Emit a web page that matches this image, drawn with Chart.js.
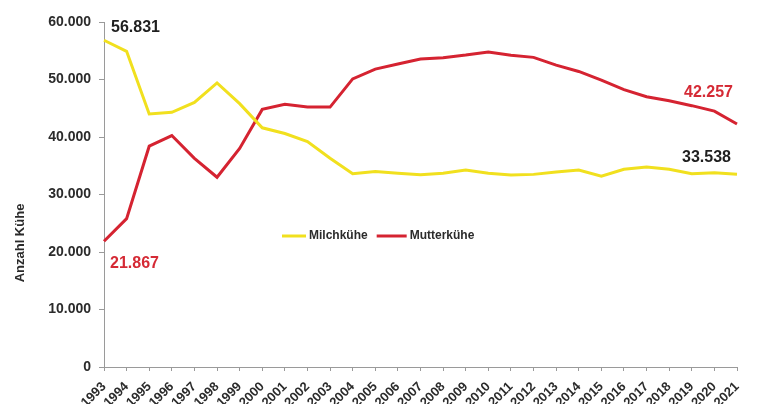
<!DOCTYPE html>
<html lang="de">
<head>
<meta charset="utf-8">
<title>Milchkühe und Mutterkühe 1993–2021</title>
<script src="https://cdn.jsdelivr.net/npm/chart.js@4/dist/chart.umd.min.js"></script>
<style>
  html, body { margin: 0; padding: 0; background: #ffffff; }
  #wrap { width: 757px; height: 404px; position: relative; }
</style>
</head>
<body>
<div id="wrap"><canvas id="chart" width="757" height="404"></canvas></div>
<script>
// Jahre
const years = ['1993','1994','1995','1996','1997','1998','1999','2000','2001','2002',
  '2003','2004','2005','2006','2007','2008','2009','2010','2011','2012','2013','2014',
  '2015','2016','2017','2018','2019','2020','2021'];

// Anzahl Milchkühe
const milchkuehe = [56831, 54900, 44000, 44300, 46000, 49400, 45800, 41600, 40600, 39200,
  36300, 33600, 34000, 33700, 33450, 33700, 34250, 33700, 33400, 33500, 33900, 34250,
  33200, 34400, 34800, 34400, 33600, 33800, 33538];

// Anzahl Mutterkühe
const mutterkuehe = [21867, 25800, 38400, 40250, 36300, 33000, 38000, 44800, 45700, 45200,
  45200, 50100, 51800, 52700, 53550, 53800, 54250, 54800, 54200, 53850, 52500, 51400,
  49900, 48250, 47000, 46300, 45450, 44500, 42257];

// y-Achse
const yTicks = [0, 10000, 20000, 30000, 40000, 50000, 60000];
const yTitle = 'Anzahl Kühe';

const seriesNames = ['Milchkühe', 'Mutterkühe'];
const YELLOW = '#f1e01e';
const RED = '#d52331';
const FONT = '"Liberation Sans", Arial, Helvetica, sans-serif';

function fmt(v) {
  return String(Math.round(v)).replace(/\B(?=(\d{3})+(?!\d))/g, '.');
}

// Start- und Endwerte an den Linien beschriften
const endLabels = {
  id: 'endLabels',
  afterDatasetsDraw(chart) {
    const ctx = chart.ctx;
    const x = chart.scales.x, y = chart.scales.y;
    const spec = [
      { ds: 0, idx: 0, color: '#1f1f1f', dx: 7, dy: -13, align: 'left' },
      { ds: 1, idx: 0, color: '#d52a35', dx: 6, dy: 22, align: 'left' },
      { ds: 1, idx: years.length - 1, color: '#d52a35', dx: -4, dy: -31, align: 'right' },
      { ds: 0, idx: years.length - 1, color: '#1f1f1f', dx: -6, dy: -17, align: 'right' }
    ];
    ctx.save();
    ctx.font = 'bold 16px ' + FONT;
    ctx.textBaseline = 'middle';
    spec.forEach(s => {
      const v = chart.data.datasets[s.ds].data[s.idx];
      const px = x.getPixelForValue(s.idx);
      const py = y.getPixelForValue(v);
      ctx.fillStyle = s.color;
      ctx.textAlign = s.align;
      ctx.fillText(fmt(v), px + s.dx, py + s.dy);
    });
    ctx.restore();
  }
};

// Legende im Diagramm und Titel der y-Achse
const innerLegend = {
  id: 'innerLegend',
  afterDraw(chart) {
    const ctx = chart.ctx;
    const area = chart.chartArea;
    let cx = area.left + 178;
    const cy = 236;
    ctx.save();
    ctx.font = 'bold 12px ' + FONT;
    ctx.textBaseline = 'middle';
    ctx.textAlign = 'left';
    chart.data.datasets.forEach((ds, i) => {
      const len = i === 0 ? 24 : 30;
      ctx.strokeStyle = ds.borderColor;
      ctx.lineWidth = 3;
      ctx.beginPath();
      ctx.moveTo(cx, cy);
      ctx.lineTo(cx + len, cy);
      ctx.stroke();
      cx += len + 3;
      ctx.fillStyle = '#2b2b2b';
      ctx.fillText(ds.label, cx, cy);
      cx += ctx.measureText(ds.label).width + 9;
    });

    // Achsentitel, etwas unterhalb der Mitte
    ctx.translate(20, area.top + 221);
    ctx.rotate(-Math.PI / 2);
    ctx.textAlign = 'center';
    ctx.font = 'bold 13px ' + FONT;
    ctx.fillText(yTitle, 0, 0);
    ctx.restore();
  }
};

new Chart(document.getElementById('chart'), {
  type: 'line',
  data: {
    labels: years,
    datasets: [
      { label: seriesNames[0], data: milchkuehe, borderColor: YELLOW, backgroundColor: YELLOW,
        borderWidth: 3, pointRadius: 0, tension: 0 },
      { label: seriesNames[1], data: mutterkuehe, borderColor: RED, backgroundColor: RED,
        borderWidth: 3, pointRadius: 0, tension: 0 }
    ]
  },
  options: {
    responsive: false,
    animation: false,
    devicePixelRatio: 1,
    layout: { padding: { top: 22, right: 20, left: 0, bottom: 0 } },
    plugins: {
      legend: { display: false },
      tooltip: { enabled: false }
    },
    scales: {
      x: {
        offset: false,
        grid: { drawOnChartArea: false, drawTicks: true, tickLength: 4, color: '#9a9a9a' },
        border: { display: true, color: '#9a9a9a', width: 1 },
        ticks: {
          autoSkip: false, minRotation: 45, maxRotation: 45, padding: 8,
          color: '#2b2b2b', font: { family: FONT, size: 13, weight: 'bold' }
        },
        afterFit(scale) { scale.height = 37; }
      },
      y: {
        min: 0, max: 60000,
        afterBuildTicks(scale) { scale.ticks = yTicks.map(v => ({ value: v })); },
        grid: { drawOnChartArea: false, drawTicks: true, tickLength: 5, color: '#9a9a9a' },
        border: { display: true, color: '#9a9a9a', width: 1 },
        ticks: {
          padding: 8, color: '#2b2b2b',
          font: { family: FONT, size: 14, weight: 'bold' },
          callback: v => fmt(v)
        },
        afterFit(scale) { scale.width = 104; }
      }
    }
  },
  plugins: [endLabels, innerLegend]
});
</script>
</body>
</html>
